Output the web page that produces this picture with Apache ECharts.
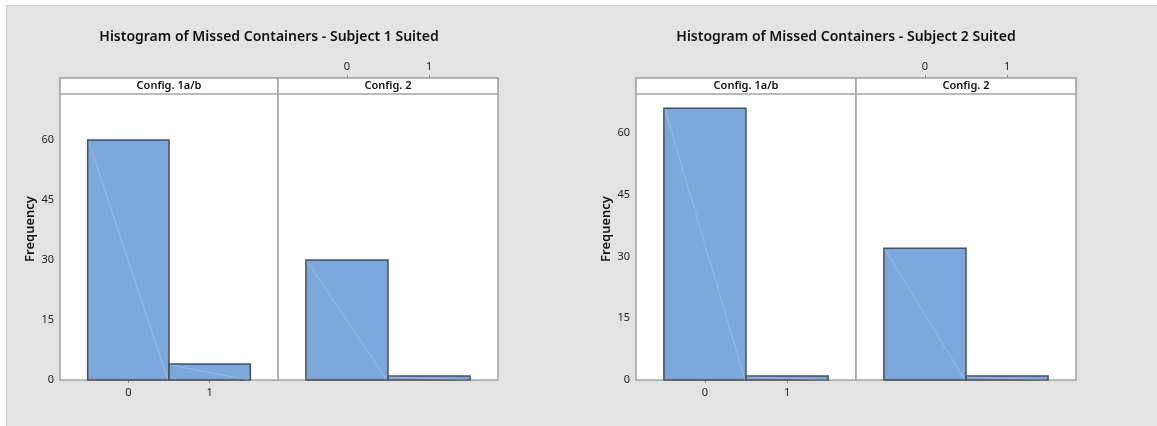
<!DOCTYPE html>
<html>
<head>
<meta charset="utf-8">
<script src="https://cdn.jsdelivr.net/npm/echarts@6/dist/echarts.min.js"></script>
<style>
  html, body { margin: 0; padding: 0; background: #fff; }
  #main { width: 1157px; height: 426px; }
</style>
</head>
<body>
<div id="main"></div>
<script>
// histogram bins (missed containers) and counts
const bins = [0, 1];
const yTicks = [0, 15, 30, 45, 60];
const panelNames = ['Config. 1a/b', 'Config. 2'];
const chartTitles = [
    'Histogram of Missed Containers - Subject 1 Suited',
    'Histogram of Missed Containers - Subject 2 Suited'
];
const subject1Config1 = [60, 4];
const subject1Config2 = [30, 1];
const subject2Config1 = [66, 1];
const subject2Config2 = [32, 1];

const panelData = [subject1Config1, subject1Config2, subject2Config1, subject2Config2];

var myChart = echarts.init(document.getElementById('main'));

const font = "'Noto Sans', 'Open Sans', sans-serif";
const frameColor = '#a4a4a4';
const barFill = '#7ca7da';
const barEdge = '#4b4f56';

// panel layout: [left, width]
const panels = [[60, 218], [278, 220], [636, 220], [856, 220]];
const panelTop = 78, panelHeight = 302, stripHeight = 16;
const yMax = [75.5, 75.5, 73.36, 73.36];

const grids = panels.map(p => ({
    left: p[0], top: panelTop, width: p[1], height: panelHeight,
    show: true, backgroundColor: '#fff', borderColor: frameColor, borderWidth: 1.5
}));

const tickLabel = { fontFamily: font, fontSize: 11, color: '#222' };

const xAxes = [];
const yAxes = [];
panels.forEach((p, i) => {
    const firstInRow = i % 2 === 0;
    xAxes.push({
        type: 'value', gridIndex: i, min: -0.84, max: 1.84,
        axisLine: { show: false },
        splitLine: { show: false },
        axisTick: { show: firstInRow, length: 3, customValues: bins, lineStyle: { color: '#888' } },
        axisLabel: Object.assign({ show: firstInRow, margin: 7, customValues: bins }, tickLabel)
    });
    yAxes.push({
        type: 'value', gridIndex: i, min: 0, max: yMax[i],
        name: firstInRow ? 'Frequency' : '',
        nameLocation: 'middle', nameGap: 23,
        nameTextStyle: { fontFamily: font, fontSize: 13, fontWeight: 600, color: '#111' },
        axisLine: { show: false },
        splitLine: { show: false },
        axisTick: { show: firstInRow, length: 3, customValues: yTicks, lineStyle: { color: '#888' } },
        axisLabel: Object.assign({ show: firstInRow, margin: 6, customValues: yTicks }, tickLabel)
    });
});
// top scale above the second panel of each chart
[1, 3].forEach(i => {
    xAxes.push({
        type: 'value', gridIndex: i, position: 'top', min: -0.84, max: 1.84,
        axisLine: { show: false },
        splitLine: { show: false },
        axisTick: { show: true, length: 3, customValues: bins, lineStyle: { color: '#888' } },
        axisLabel: Object.assign({ margin: 6, customValues: bins }, tickLabel)
    });
});

function renderBin(params, api) {
    const x = api.value(0), v = api.value(1);
    const tl = api.coord([x - 0.5, v]);
    const br = api.coord([x + 0.5, 0]);
    return {
        type: 'group',
        children: [{
            type: 'rect',
            shape: { x: tl[0], y: tl[1], width: br[0] - tl[0], height: br[1] - tl[1] },
            style: { fill: barFill, stroke: barEdge, lineWidth: 1.5 }
        }, {
            type: 'line',
            shape: { x1: tl[0] + 1, y1: tl[1] + 1, x2: br[0] - 1, y2: br[1] },
            style: { stroke: 'rgba(255,255,255,0.35)', lineWidth: 0.6 }
        }]
    };
}

const series = panelData.map((vals, i) => ({
    type: 'custom',
    xAxisIndex: i,
    yAxisIndex: i,
    renderItem: renderBin,
    data: bins.map((b, k) => [b, vals[k]])
}));

// strip headers, outer frame
const graphic = [
    { type: 'rect', shape: { x: 0, y: 0, width: 1157, height: 5 }, style: { fill: '#fff' } },
    { type: 'rect', shape: { x: 0, y: 0, width: 6, height: 426 }, style: { fill: '#fff' } },
    { type: 'polyline', shape: { points: [[6.5, 426], [6.5, 5.5], [1157, 5.5]] }, style: { stroke: '#c9c9c9', fill: null, lineWidth: 1 } }
];
panels.forEach((p, i) => {
    graphic.push({
        type: 'rect', z: 100,
        shape: { x: p[0], y: panelTop, width: p[1], height: stripHeight },
        style: { fill: '#fff', stroke: frameColor, lineWidth: 1.5 }
    });
    graphic.push({
        type: 'text', z: 101,
        x: p[0] + p[1] / 2, y: panelTop + stripHeight / 2,
        style: {
            text: panelNames[i % 2], fontFamily: font, fontSize: 11, fontWeight: 600,
            fill: '#111', align: 'center', verticalAlign: 'middle'
        }
    });
});

var option = {
    backgroundColor: '#e3e3e3',
    animation: false,
    title: [
        { text: chartTitles[0], left: 264, top: 25, textAlign: 'center',
          textStyle: { fontFamily: font, fontSize: 14, fontWeight: 600, color: '#111' } },
        { text: chartTitles[1], left: 841, top: 25, textAlign: 'center',
          textStyle: { fontFamily: font, fontSize: 14, fontWeight: 600, color: '#111' } }
    ],
    grid: grids,
    xAxis: xAxes,
    yAxis: yAxes,
    graphic: graphic,
    series: series
};
myChart.setOption(option);
</script>
</body>
</html>
